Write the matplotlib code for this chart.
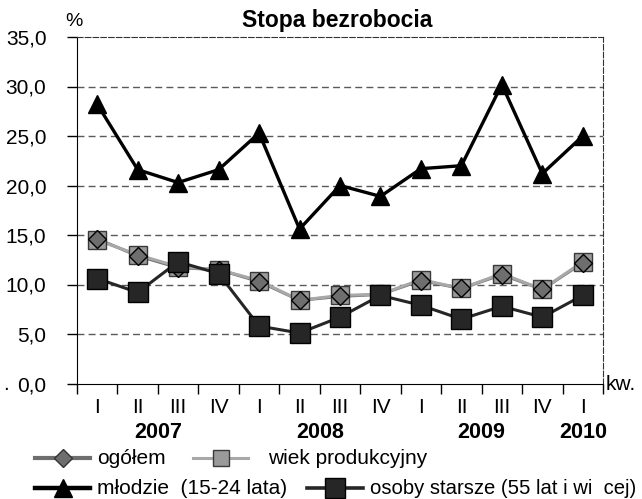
import numpy as np
import matplotlib.pyplot as plt
from matplotlib.lines import Line2D

plt.rcParams['font.family'] = ['Liberation Sans', 'DejaVu Sans']

quarters = ['I', 'II', 'III', 'IV', 'I', 'II', 'III', 'IV', 'I', 'II', 'III', 'IV', 'I']
years = ['2007', '2008', '2009', '2010']
year_pos = [1.5, 5.5, 9.5, 12]

mlodzi = [28.2, 21.6, 20.3, 21.6, 25.3, 15.6, 20.0, 18.9, 21.7, 22.0, 30.2, 21.2, 25.0]
ogolem = [14.6, 12.9, 11.7, 11.5, 10.3, 8.4, 8.8, 9.0, 10.4, 9.6, 11.0, 9.5, 12.2]
wiek_prod = [14.5, 13.0, 11.8, 11.5, 10.4, 8.4, 8.9, 9.0, 10.5, 9.6, 11.1, 9.5, 12.3]
starsi = [10.6, 9.2, 12.3, 11.1, 5.8, 5.1, 6.7, 8.9, 7.9, 6.5, 7.8, 6.7, 8.9]

yticks = [0, 5, 10, 15, 20, 25, 30, 35]

W, H = 642, 499
fig = plt.figure(figsize=(W / 100, H / 100), dpi=100)
ax = fig.add_axes([77 / W, 1 - 383.5 / H, (603 - 77) / W, (383.5 - 37) / H])

x = np.arange(len(quarters))

# colours
c_mlodzi = 'black'
c_ogolem = '#6e6e6e'
c_wiek_line = '#a8a8a8'
c_wiek_face = '#9a9a9a'
c_starsi = '#262626'

ax.plot(x, wiek_prod, color=c_wiek_line, lw=2.2, marker='s', ms=13.5,
        mfc=c_wiek_face, mec='#3a3a3a', mew=1, zorder=3)
ax.plot(x, ogolem, color=c_ogolem, lw=2.2, zorder=2)
ax.plot(x, ogolem, ls='none', marker='D', ms=9, mfc=c_ogolem, mec='black',
        mew=1, zorder=4)
ax.plot(x, starsi, color=c_starsi, lw=2.2, marker='s', ms=14,
        mfc=c_starsi, mec='black', mew=1, zorder=5)
ax.plot(x, mlodzi, color=c_mlodzi, lw=2.4, marker='^', ms=13.5,
        mfc=c_mlodzi, mec='black', zorder=6)

ax.set_xlim(-0.5, len(quarters) - 0.5)
ax.set_ylim(0, 35)
ax.set_yticks(yticks)
ax.set_yticklabels([f'{v:.1f}'.replace('.', ',') for v in yticks], fontsize=15)
ax.tick_params(axis='y', length=7, width=1, pad=15, direction='out')

ax.set_xticks(np.arange(-0.5, len(quarters) + 0.5, 1))
ax.set_xticklabels([])
ax.tick_params(axis='x', length=7, width=1, direction='out')

for i, q in enumerate(quarters):
    ax.text(i, -2.4, q, ha='center', va='center', fontsize=15)
for yr, p in zip(years, year_pos):
    ax.text(p, -5.0, yr, ha='center', va='center', fontsize=15.5,
            fontweight='bold')

for v in yticks[1:-1]:
    ax.axhline(v, color='#5a5a5a', lw=1, ls=(0, (5, 3)), zorder=1)

ax.spines['left'].set_color('black')
ax.spines['bottom'].set_color('black')
ax.spines['top'].set_linestyle((0, (5, 2)))
ax.spines['top'].set_color('#333333')
ax.spines['right'].set_linestyle((0, (5, 2)))
ax.spines['right'].set_color('#333333')

fig.text(337 / W, 1 - 20 / H, 'Stopa bezrobocia', ha='center', va='center',
         fontsize=16.5, fontweight='bold')
fig.text(74 / W, 1 - 22 / H, '%', ha='center', va='center', fontsize=14)
fig.text(606 / W, 1 - 384 / H, 'kw.', ha='left', va='center', fontsize=15)
fig.text(3 / W, 1 - 385 / H, '.', ha='left', va='center', fontsize=15)


# legend drawn by hand, rows do not line up in the original
def legend_entry(x0, x1, y, color, lw, marker, ms, mfc, mec, label, tx, fs=15):
    yy = 1 - y / H
    fig.add_artist(Line2D([x0 / W, x1 / W], [yy, yy], color=color, lw=lw))
    fig.add_artist(Line2D([(x0 + x1) / 2 / W], [yy], ls='none', marker=marker,
                          ms=ms, mfc=mfc, mec=mec, mew=1))
    fig.text(tx / W, yy, label, ha='left', va='center', fontsize=fs)


legend_entry(35, 90, 458, c_ogolem, 3, 'D', 9.5, c_ogolem, '#333333', 'ogółem', 97)
legend_entry(193, 248, 458, c_wiek_line, 2.2, 's', 11.5, c_wiek_face, '#3a3a3a',
             'wiek produkcyjny', 268)
legend_entry(35, 90, 488, c_mlodzi, 3.2, '^', 13, c_mlodzi, 'black',
             'młodzie  (15-24 lata)', 97)
legend_entry(307, 363, 488, c_starsi, 2.6, 's', 14, c_starsi, 'black',
             'osoby starsze (55 lat i wi  cej)', 370, fs=14.6)

fig.savefig('out.png', dpi=100)
